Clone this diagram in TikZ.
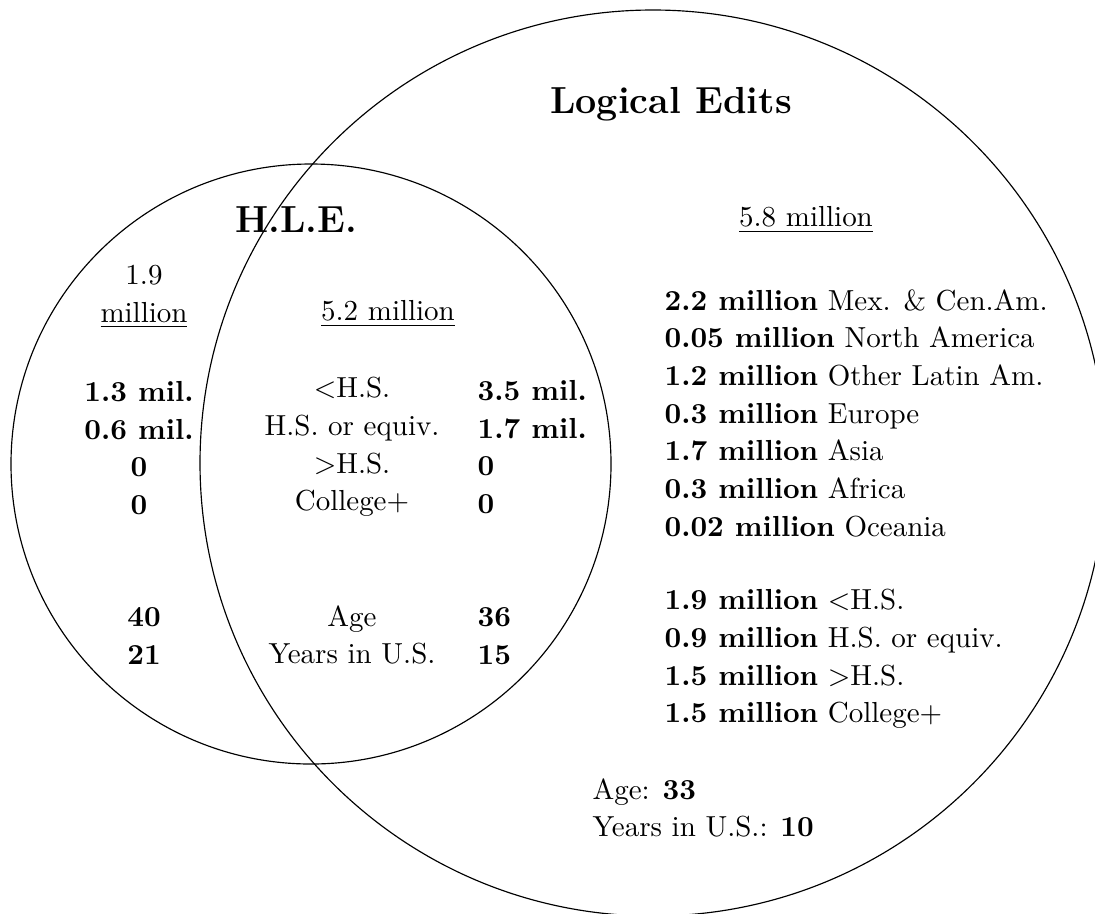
\documentclass[tikz,border=0pt]{standalone}
\tikzset{
  txt/.style={inner sep=0pt, font=\fontsize{10}{13}\selectfont},
  bold/.style={inner sep=0pt, font=\fontsize{10}{13}\selectfont\bfseries},
  title/.style={inner sep=0pt, font=\fontsize{13}{16}\selectfont\bfseries}
}
\begin{document}
\begin{tikzpicture}[x=0.345pt, y=-0.345pt]
\useasboundingbox (0,0) rectangle (1095,913);
\clip (0,0) rectangle (1095,913);

\draw (311,464) circle (300);
\draw (653,463) circle (453);

\node[title] (hle) at (296,220) {H.L.E.};
\node[title] (logic) at (671,104) {Logical Edits};

\node[txt, align=center] (hletotal) at (144,297) {1.9\\\underline{million}};
\node[txt] (bothtotal) at (388,314) {\underline{5.2 million}};
\node[txt] (logictotal) at (806,220) {\underline{5.8 million}};

\node[bold, align=center] (hleeduc) at (139,448) {1.3 mil.\\0.6 mil.\\0\\0};
\node[txt, align=center] (educ) at (352,447) {$<$H.S.\\H.S. or equiv.\\$>$H.S.\\College+};
\node[bold, align=left, anchor=west] (botheduc) at (477,447) {3.5 mil.\\1.7 mil.\\0\\0};

\node[bold, align=center] (hleage) at (144,636) {40\\21};
\node[txt, align=center] (age) at (352,635) {Age\\Years in U.S.};
\node[bold, align=left, anchor=west] (bothage) at (477,636) {36\\15};

\node[txt, align=left, anchor=west] (logicorigin) at (664,413) {\textbf{2.2 million} Mex. \& Cen.Am.\\
\textbf{0.05 million} North America\\
\textbf{1.2 million} Other Latin Am.\\
\textbf{0.3 million} Europe\\
\textbf{1.7 million} Asia\\
\textbf{0.3 million} Africa\\
\textbf{0.02 million} Oceania};
\node[txt, align=left, anchor=west] (logiceduc) at (664,659) {\textbf{1.9 million} $<$H.S.\\
\textbf{0.9 million} H.S. or equiv.\\
\textbf{1.5 million} $>$H.S.\\
\textbf{1.5 million} College+};
\node[txt, align=left, anchor=west] (logicage) at (592,808) {Age: \textbf{33}\\Years in U.S.: \textbf{10}};
\end{tikzpicture}
\end{document}
